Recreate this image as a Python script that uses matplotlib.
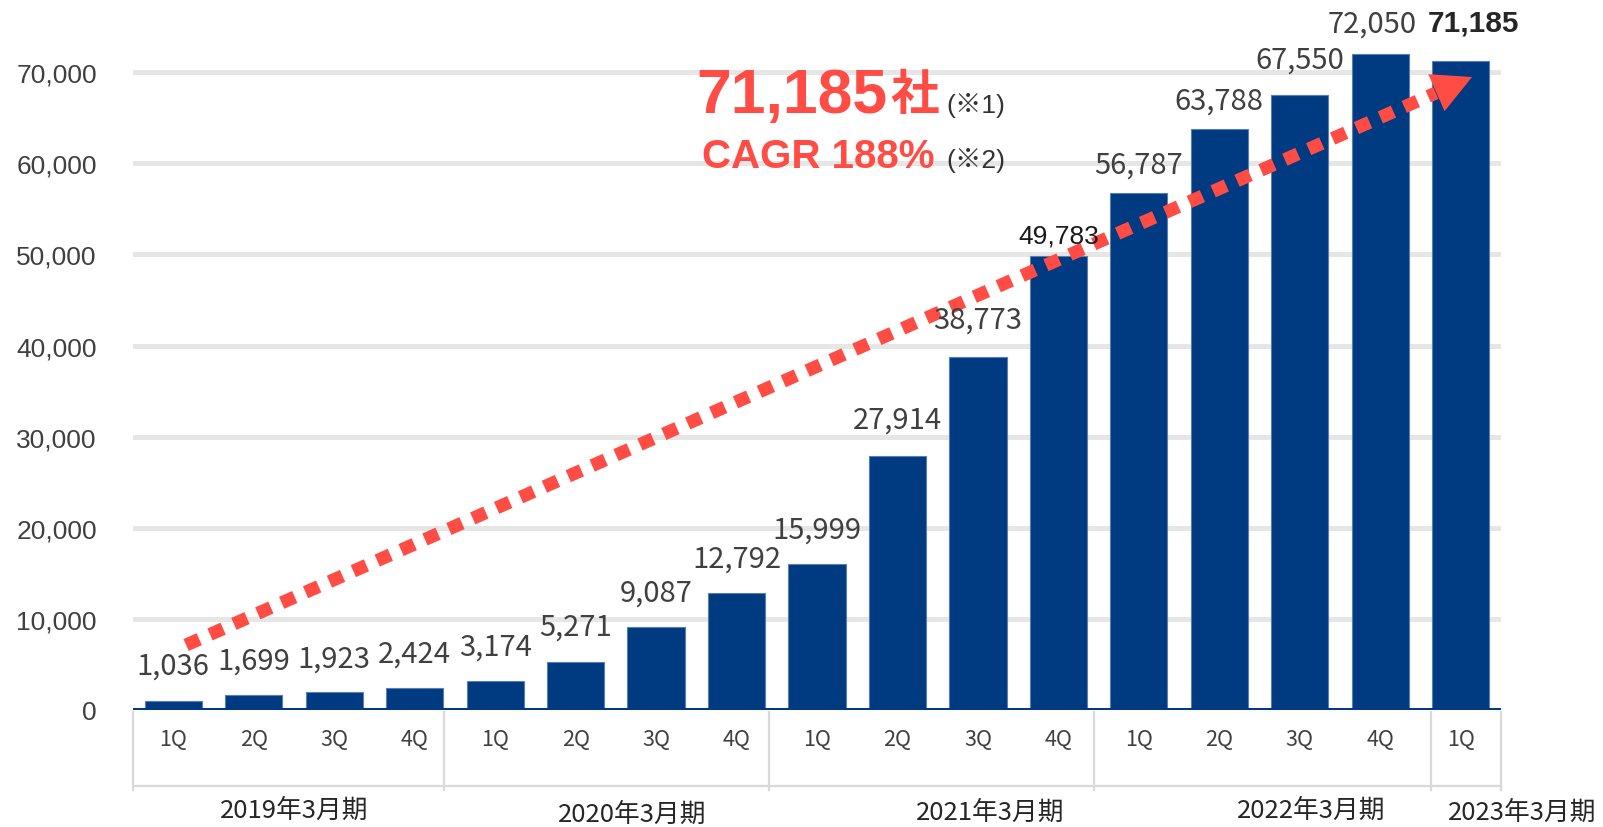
import matplotlib
matplotlib.use('Agg')
import matplotlib.pyplot as plt
from matplotlib.transforms import blended_transform_factory

# Data
quarters = ['1Q', '2Q', '3Q', '4Q'] * 4 + ['1Q']
values = [1036, 1699, 1923, 2424, 3174, 5271, 9087, 12792, 15999,
          27914, 38773, 49783, 56787, 63788, 67550, 72050, 71185]
fiscal_years = ['2019年3月期', '2020年3月期', '2021年3月期', '2022年3月期', '2023年3月期']
yticks = [0, 10000, 20000, 30000, 40000, 50000, 60000, 70000]
headline_value = '71,185'
headline_unit = '社'
cagr_text = 'CAGR 188%'
notes = ['(※1)', '(※2)']

# Layout (pixel measurements from reference)
W, H = 1603, 828
label_offset_px = [35, 34, 34, 34, 34, 35, 35, 34.5, 35, 36, 37, 21, 28, 28, 34.5, 30, 39]
label_shift_px = [0] * 15 + [-8, 13]
year_label_x = [1.5, 5.7, 10.15, 14.14, 16.76]
year_label_y_px = [811, 815, 813, 811, 813]
separator_x = [-0.5, 3.36, 7.40, 11.44, 15.63, 16.5]
arrow_start = (0.16, 7135)
arrow_base = (15.69, 67730)
arrow_tip = (16.14, 69480)

bar_color = '#003A80'
red = '#FF4C45'
grey_txt = '#404040'
narrow = ['Liberation Sans Narrow', 'Noto Sans CJK JP', 'DejaVu Sans']
sans = ['Liberation Sans', 'Noto Sans CJK JP', 'DejaVu Sans']


def fx(px):
    return px / W


def fy(py):
    return 1 - py / H


fig = plt.figure(figsize=(W / 100, H / 100), dpi=100)
ax = fig.add_axes([fx(133), fy(711), (1501 - 133) / W, 710.6 / H])

x = list(range(len(values)))
ax.bar(x, values, width=0.71, color=bar_color, edgecolor='#5A7DB5', linewidth=0.8, zorder=2)
ax.axhline(0, color=bar_color, lw=3.6, zorder=3)

ax.set_xlim(-0.5, 16.5)
ax.set_ylim(0, 78000)
ax.set_yticks(yticks)
ax.set_yticklabels([f'{v:,}' for v in yticks], fontsize=19, color=grey_txt, family=sans)
ax.set_xticks([])
ax.tick_params(axis='y', length=0, pad=26)
ax.yaxis.grid(True, color='#E6E6E6', lw=3.6)
ax.set_axisbelow(True)
for s in ax.spines.values():
    s.set_visible(False)

# value labels
for i, v in enumerate(values):
    off = (label_shift_px[i] * 0.72, label_offset_px[i] * 0.72)
    if i == len(values) - 1:
        ax.annotate(f'{v:,}', (i, v), xytext=off, textcoords='offset points',
                    ha='center', va='center', fontsize=21.5, weight='bold',
                    color='#262626', family=sans, zorder=5)
    elif i == 11:
        ax.annotate(f'{v:,}', (i, v), xytext=off, textcoords='offset points',
                    ha='center', va='center', fontsize=19, color='#1A1A1A',
                    family=sans, zorder=5)
    else:
        ax.annotate(f'{v:,}', (i, v), xytext=off, textcoords='offset points',
                    ha='center', va='center', fontsize=21, color=grey_txt,
                    family=narrow, zorder=5)

# category axis
trans = blended_transform_factory(ax.transData, fig.transFigure)
for i, q in enumerate(quarters):
    ax.text(i, fy(740), q, transform=trans, ha='center', va='center',
            fontsize=15.5, color=grey_txt, family=narrow)
for sx in separator_x:
    ax.plot([sx, sx], [fy(713), fy(791)], transform=trans, color='#D9D9D9',
            lw=1.6, clip_on=False)
ax.plot([-0.5, 16.5], [fy(787), fy(787)], transform=trans, color='#D9D9D9',
        lw=1.6, clip_on=False)
for lx, ly, lab in zip(year_label_x, year_label_y_px, fiscal_years):
    ax.text(lx, fy(ly), lab, transform=trans, ha='center', va='center',
            fontsize=18.5, color='#262626', family=narrow)

# dashed growth arrow
ax.plot([arrow_start[0], arrow_base[0]], [arrow_start[1], arrow_base[1]],
        color=red, lw=9.4, dashes=(1.1, 0.9), dash_capstyle='butt', zorder=4)
ax.annotate('', xy=arrow_tip, xytext=arrow_base,
            arrowprops=dict(arrowstyle='-|>,head_length=1.0,head_width=0.52',
                            mutation_scale=28, color=red, lw=0,
                            shrinkA=0, shrinkB=0), zorder=4)

# headline
fig.text(fx(696), fy(113), headline_value, fontsize=45, weight='bold', color=red,
         family=sans, ha='left', va='baseline')
fig.text(fx(890), fy(110), headline_unit, fontsize=35, weight='bold', color=red,
         family=['Noto Sans CJK JP'], ha='left', va='baseline')
fig.text(fx(946), fy(113), notes[0], fontsize=19, color='#333333',
         family=sans, ha='left', va='baseline')
fig.text(fx(702), fy(168), cagr_text, fontsize=29, weight='bold', color=red,
         family=sans, ha='left', va='baseline')
fig.text(fx(946), fy(168), notes[1], fontsize=19, color='#333333',
         family=sans, ha='left', va='baseline')

fig.savefig('out.png', dpi=100, facecolor='white')
